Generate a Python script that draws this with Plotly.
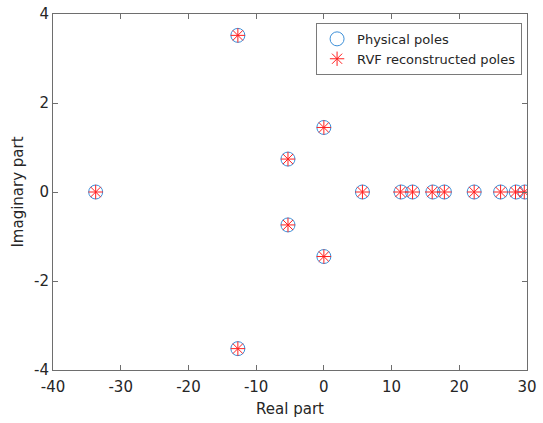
import plotly.graph_objects as go

# Physical poles (real, imaginary)
phys_re = [-33.7, -12.7, -12.7, -5.3, -5.3, 0.0, 0.0,
           5.7, 11.4, 13.1, 16.1, 17.8, 22.2, 26.1, 28.4, 29.7]
phys_im = [0.0, 3.52, -3.52, 0.74, -0.74, 1.45, -1.45,
           0.0, 0.0, 0.0, 0.0, 0.0, 0.0, 0.0, 0.0, 0.0]

# Poles reconstructed by RVF
rvf_re = [-33.7, -12.7, -12.7, -5.3, -5.3, 0.0, 0.0,
          5.7, 11.3, 13.1, 16.0, 17.8, 22.2, 26.1, 28.3, 29.6]
rvf_im = [0.0, 3.52, -3.52, 0.74, -0.74, 1.45, -1.45,
          0.0, 0.0, 0.0, 0.0, 0.0, 0.0, 0.0, 0.0, 0.0]

x_ticks = [-40, -30, -20, -10, 0, 10, 20, 30]
x_labels = ["-40", "-30", "-20", "-10", "0", "10", "20", "30"]
y_ticks = [-4, -2, 0, 2, 4]
y_labels = ["-4", "-2", "0", "2", "4"]

FONT = "DejaVu Sans, sans-serif"
AXIS_COLOR = "#6e6e6e"
TEXT_COLOR = "#262626"

fig = go.Figure()
fig.add_trace(go.Scatter(
    x=phys_re, y=phys_im, mode="markers", name="Physical poles",
    marker=dict(symbol="circle-open", size=14,
                line=dict(color="#3c8fd8", width=1), color="#3c8fd8"),
))
fig.add_trace(go.Scatter(
    x=rvf_re, y=rvf_im, mode="markers", name="RVF reconstructed poles",
    marker=dict(symbol="asterisk-open", size=12,
                line=dict(color="#ff2020", width=1), color="#ff2020"),
))

axis_common = dict(
    showgrid=False, zeroline=False, showline=True, mirror="ticks",
    linecolor=AXIS_COLOR, linewidth=1, ticks="inside", ticklen=5,
    tickcolor=AXIS_COLOR, tickwidth=1, automargin=False,
    tickfont=dict(family=FONT, size=15, color=TEXT_COLOR),
)

fig.update_layout(
    width=543, height=423,
    margin=dict(l=53, r=16, t=14, b=53),
    paper_bgcolor="white", plot_bgcolor="white",
    font=dict(family=FONT, size=14, color=TEXT_COLOR),
    xaxis=dict(range=[-40, 30], tickvals=x_ticks, ticktext=x_labels,
               ticklabelstandoff=3,
               title=dict(text="Real part", standoff=8,
                          font=dict(family=FONT, size=15, color=TEXT_COLOR)),
               **axis_common),
    yaxis=dict(range=[-4, 4], tickvals=y_ticks, ticktext=y_labels,
               title=dict(text="Imaginary part", standoff=6,
                          font=dict(family=FONT, size=15, color=TEXT_COLOR)),
               **axis_common),
    legend=dict(x=0.555, y=0.975, xanchor="left", yanchor="top",
                bgcolor="white", bordercolor="#7a7a7a", borderwidth=1,
                font=dict(family=FONT, size=13, color=TEXT_COLOR),
                tracegroupgap=0, itemwidth=30),
    showlegend=True,
)

fig.write_html("out.html")
